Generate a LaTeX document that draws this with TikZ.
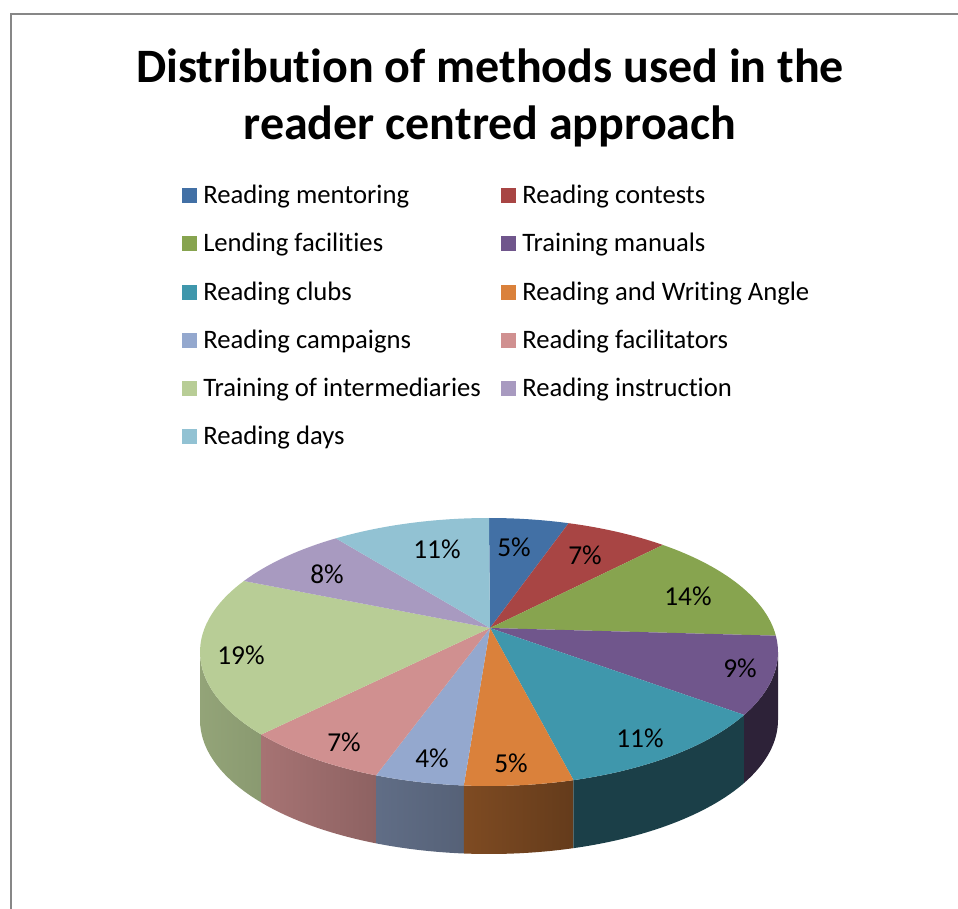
\documentclass[tikz,border=0pt]{standalone}
\usepackage{fontspec}
\setmainfont[Ligatures={NoCommon,NoRequired,NoContextual},RawFeature={-liga;-clig;-calt;-dlig;-rlig}]{Carlito}
\usetikzlibrary{positioning,calc}

\definecolor{framegray}{HTML}{878787}
\definecolor{mentoring}{HTML}{4270A5}
\definecolor{contests}{HTML}{A84544}
\definecolor{lending}{HTML}{87A44F}
\definecolor{manuals}{HTML}{70568C}
\definecolor{clubs}{HTML}{3F97AC}
\definecolor{angle}{HTML}{DA813B}
\definecolor{campaigns}{HTML}{94A8CE}
\definecolor{facilitators}{HTML}{D09090}
\definecolor{intermed}{HTML}{B8CD96}
\definecolor{instruction}{HTML}{A89AC0}
\definecolor{days}{HTML}{92C2D3}

\tikzset{
  pct/.style={font=\fontsize{20.5}{24}\selectfont, inner sep=0pt},
  legkey/.style={minimum size=11.25pt, inner sep=0pt},
  legtext/.style={font=\fontsize{20}{24}\selectfont, inner sep=0pt, anchor=base west},
  heading/.style={font=\bfseries\fontsize{36}{43}\selectfont, inner sep=0pt, anchor=base}
}

\begin{document}
\begin{tikzpicture}[x=0.75pt,y=0.75pt]
\useasboundingbox (0,-909) rectangle (958,0);
\draw[line width=1.5, color=framegray](10.5,-909) -- (10.5,-14) -- (958,-14);

% title
\node[heading] (title1) at (490,-83) {Distribution of methods used in the};
\node[heading] (title2) at (490,-140) {reader centred approach};

% legend
\node[legkey, fill=mentoring] (key1) at (189.5,-195.5) {};
\node[legtext] (lab1) at (203,-203.5) {Reading mentoring};
\node[legkey, fill=contests] (key2) at (508.5,-195.5) {};
\node[legtext] (lab2) at (522,-203.5) {Reading contests};
\node[legkey, fill=lending] (key3) at (189.5,-243.8) {};
\node[legtext] (lab3) at (203,-251.8) {Lending facilities};
\node[legkey, fill=manuals] (key4) at (508.5,-243.8) {};
\node[legtext] (lab4) at (522,-251.8) {Training manuals};
\node[legkey, fill=clubs] (key5) at (189.5,-292.1) {};
\node[legtext] (lab5) at (203,-300.1) {Reading clubs};
\node[legkey, fill=angle] (key6) at (508.5,-292.1) {};
\node[legtext] (lab6) at (522,-300.1) {Reading and Writing Angle};
\node[legkey, fill=campaigns] (key7) at (189.5,-340.4) {};
\node[legtext] (lab7) at (203,-348.4) {Reading campaigns};
\node[legkey, fill=facilitators] (key8) at (508.5,-340.4) {};
\node[legtext] (lab8) at (522,-348.4) {Reading facilitators};
\node[legkey, fill=intermed] (key9) at (189.5,-388.7) {};
\node[legtext] (lab9) at (203,-396.7) {Training of intermediaries};
\node[legkey, fill=instruction] (key10) at (508.5,-388.7) {};
\node[legtext] (lab10) at (522,-396.7) {Reading instruction};
\node[legkey, fill=days] (key11) at (189.5,-437) {};
\node[legtext] (lab11) at (203,-445) {Reading days};

% pie, sides first
\coordinate (ctr) at (489,-652);
\coordinate (apex) at (490,-628);
\begin{scope}[x radius=289, y radius=134]
\shade[left color=intermed!80!black, right color=intermed!75!black] ($(ctr)+(180:289 and 134)$) arc[start angle=180, end angle=218] -- ++(0,-68) arc[start angle=218, end angle=180] -- cycle;
\shade[left color=facilitators!80!black, right color=facilitators!68!black] ($(ctr)+(218:289 and 134)$) arc[start angle=218, end angle=247] -- ++(0,-68) arc[start angle=247, end angle=218] -- cycle;
\shade[left color=campaigns!65!black, right color=campaigns!58!black] ($(ctr)+(247:289 and 134)$) arc[start angle=247, end angle=265] -- ++(0,-68) arc[start angle=265, end angle=247] -- cycle;
\shade[left color=angle!58!black, right color=angle!46!black] ($(ctr)+(265:289 and 134)$) arc[start angle=265, end angle=287] -- ++(0,-68) arc[start angle=287, end angle=265] -- cycle;
\fill[clubs!42!black] ($(ctr)+(287:289 and 134)$) arc[start angle=287, end angle=332] -- ++(0,-68) arc[start angle=332, end angle=287] -- cycle;
\fill[manuals!40!black] ($(ctr)+(332:289 and 134)$) arc[start angle=332, end angle=360] -- ++(0,-68) arc[start angle=360, end angle=332] -- cycle;

% top of the pie
\fill[mentoring] (apex) -- ($(ctr)+(90:289 and 134)$) arc[start angle=90, end angle=74] -- cycle;
\fill[contests] (apex) -- ($(ctr)+(74:289 and 134)$) arc[start angle=74, end angle=53] -- cycle;
\fill[lending] (apex) -- ($(ctr)+(53:289 and 134)$) arc[start angle=53, end angle=7] -- cycle;
\fill[manuals] (apex) -- ($(ctr)+(7:289 and 134)$) arc[start angle=7, end angle=-28] -- cycle;
\fill[clubs] (apex) -- ($(ctr)+(-28:289 and 134)$) arc[start angle=-28, end angle=-73] -- cycle;
\fill[angle] (apex) -- ($(ctr)+(-73:289 and 134)$) arc[start angle=-73, end angle=-95] -- cycle;
\fill[campaigns] (apex) -- ($(ctr)+(-95:289 and 134)$) arc[start angle=-95, end angle=-113] -- cycle;
\fill[facilitators] (apex) -- ($(ctr)+(-113:289 and 134)$) arc[start angle=-113, end angle=-142] -- cycle;
\fill[intermed] (apex) -- ($(ctr)+(-142:289 and 134)$) arc[start angle=-142, end angle=-212] -- cycle;
\fill[instruction] (apex) -- ($(ctr)+(-212:289 and 134)$) arc[start angle=-212, end angle=-238] -- cycle;
\fill[days] (apex) -- ($(ctr)+(-238:289 and 134)$) arc[start angle=-238, end angle=-270] -- cycle;
\end{scope}

% data labels
\node[pct] (p1) at (514,-547) {5\%};
\node[pct] (p2) at (585,-555) {7\%};
\node[pct] (p3) at (688,-596) {14\%};
\node[pct] (p4) at (740,-668) {9\%};
\node[pct] (p5) at (640,-738) {11\%};
\node[pct] (p6) at (511,-763) {5\%};
\node[pct] (p7) at (432,-758) {4\%};
\node[pct] (p8) at (344,-742) {7\%};
\node[pct] (p9) at (241,-655) {19\%};
\node[pct] (p10) at (327,-574) {8\%};
\node[pct] (p11) at (437,-549) {11\%};
\end{tikzpicture}
\end{document}
